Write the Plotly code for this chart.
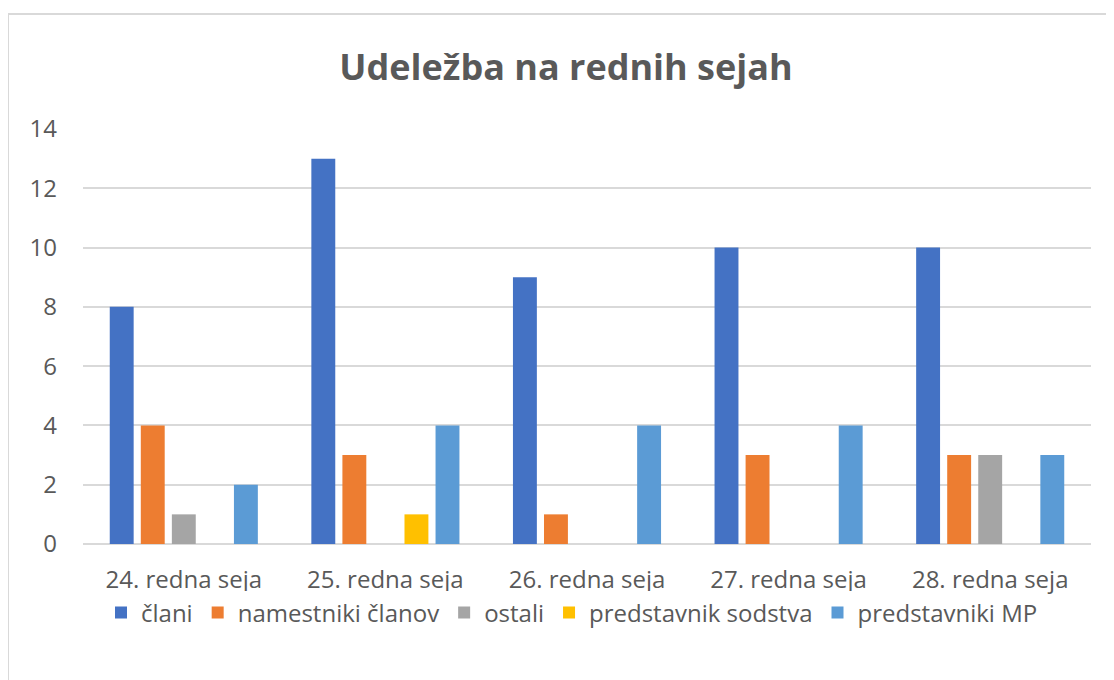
import plotly.graph_objects as go

categories = ["24. redna seja", "25. redna seja", "26. redna seja", "27. redna seja", "28. redna seja"]
clani = [8, 13, 9, 10, 10]
namestniki = [4, 3, 1, 3, 3]
ostali = [1, 0, 0, 0, 3]
sodstvo = [0, 1, 0, 0, 0]
mp = [2, 4, 4, 4, 3]

series = [
    ("člani", clani, "#4472C4"),
    ("namestniki članov", namestniki, "#ED7D31"),
    ("ostali", ostali, "#A5A5A5"),
    ("predstavnik sodstva", sodstvo, "#FFC000"),
    ("predstavniki MP", mp, "#5B9BD5"),
]

fig = go.Figure()
for name, vals, col in series:
    fig.add_trace(go.Bar(x=categories, y=vals, name=name, marker_color=col, marker_line_width=0))

OFF = 8  # page body margin
W, H = 1114 - OFF, 680 - OFF
l, r, t, b = 83 - OFF, 23, 129 - OFF, 136
pw = W - l - r
ph = H - t - b

fig.update_layout(
    width=W, height=H,
    margin=dict(l=l, r=r, t=t, b=b),
    paper_bgcolor="white", plot_bgcolor="white",
    font=dict(family="Open Sans, Noto Sans, sans-serif", color="#595959", size=24),
    title=dict(text="<b>Udeležba na rednih sejah</b>", x=(566 - OFF - l) / pw, xref="paper", xanchor="center",
               y=1 - (67 - OFF) / H, yanchor="middle",
               font=dict(size=36, color="#595959")),
    barmode="group", bargap=0.23, bargroupgap=0.23,
    showlegend=True,
    legend=dict(orientation="h", x=(572 - 83) / pw, xanchor="center", y=-(613 - 129 - ph) / ph, yanchor="middle",
                font=dict(size=24, color="#595959"), itemwidth=30, tracegroupgap=0),
    xaxis=dict(showgrid=False, showline=False, ticks="", tickfont=dict(size=24, color="#595959"),
               ticklabelstandoff=19),
    yaxis=dict(range=[0, 14], dtick=2, showgrid=True, gridcolor="#D9D9D9", gridwidth=2,
               zeroline=True, zerolinecolor="#D9D9D9", zerolinewidth=2, showline=False, ticks="",
               tickfont=dict(size=24, color="#595959"), ticklabelstandoff=25),
    shapes=[dict(type="rect", xref="paper", yref="paper",
                 x0=(8 - 83) / pw, x1=(1114 + 10 - 83) / pw, y0=-(680 + 10 - 129 - ph) / ph,
                 y1=(544 - 14) / ph,
                 line=dict(color="#D9D9D9", width=2), fillcolor="rgba(0,0,0,0)", layer="below")],
)

fig.write_html("out.html")
